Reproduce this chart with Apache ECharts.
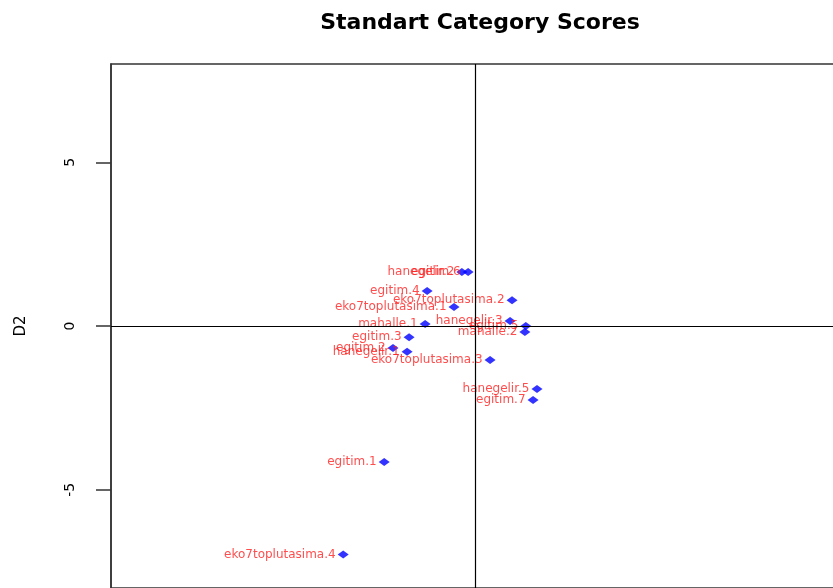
<!DOCTYPE html>
<html>
<head>
<meta charset="utf-8">
<script src="https://cdn.jsdelivr.net/npm/echarts@6/dist/echarts.min.js"></script>
<style>html,body{margin:0;padding:0;background:#fff}#c{width:833px;height:588px}</style>
</head>
<body>
<div id="c"></div>
<script>
var categories = ["hanegelir.2","egitim.6","egitim.4","eko7toplutasima.2","eko7toplutasima.1","mahalle.1","hanegelir.3","egitim.5","mahalle.2","egitim.3","egitim.2","hanegelir.1","eko7toplutasima.3","hanegelir.5","egitim.7","egitim.1","eko7toplutasima.4"];
var d1 = [-0.40,-0.21,-1.46,1.13,-0.64,-1.52,1.07,1.55,1.52,-2.01,-2.50,-2.07,0.46,1.89,1.77,-2.77,-4.02];
var d2 = [1.65,1.65,1.07,0.79,0.58,0.06,0.15,0.00,-0.18,-0.34,-0.67,-0.79,-1.04,-1.92,-2.26,-4.15,-6.98];
var yTicks = [-5,0,5];

var data = categories.map(function(n,i){return {name:n, value:[d1[i], d2[i]]};});
var chart = echarts.init(document.getElementById('c'));
chart.setOption({
  backgroundColor:'#fff',
  animation:false,
  title:{text:'Standart Category Scores', left:475, top:7, textAlign:'center',
    textStyle:{fontFamily:'DejaVu Sans', fontWeight:'bold', fontSize:22, color:'#000'}},
  grid:{left:111, top:64, width:728, height:524, outerBoundsMode:'none', containLabel:false,
    show:true, borderColor:'#333', borderWidth:1.5, backgroundColor:'transparent'},
  xAxis:{type:'value', min:-11.1, max:11.1, axisLine:{show:false}, axisTick:{show:false}, axisLabel:{show:false}, splitLine:{show:false}},
  yAxis:{type:'value', min:-8, max:8, name:'D2', nameLocation:'middle', nameGap:82, nameRotate:90,
    nameTextStyle:{fontFamily:'DejaVu Sans', fontSize:15, color:'#000'},
    axisLine:{show:true, onZero:false, lineStyle:{color:'#333', width:1.5}},
    axisTick:{show:true, inside:false, customValues:yTicks, length:15, lineStyle:{color:'#333', width:1.5}},
    axisLabel:{show:true, customValues:yTicks, rotate:90, margin:34, fontFamily:'DejaVu Sans', fontSize:14, color:'#000'},
    splitLine:{show:false}},
  series:[{
    type:'scatter', data:data, symbol:'diamond', symbolSize:[11,8],
    itemStyle:{color:'#0000ff'},
    label:{show:true, position:'left', distance:2, formatter:'{b}', color:'#ff2020', fontFamily:'DejaVu Sans', fontSize:12},
    markLine:{silent:true, symbol:'none', label:{show:false}, lineStyle:{color:'#000', type:'solid', width:1.2},
      data:[{xAxis:0},{yAxis:0}]}
  }]
});
</script>
</body>
</html>
